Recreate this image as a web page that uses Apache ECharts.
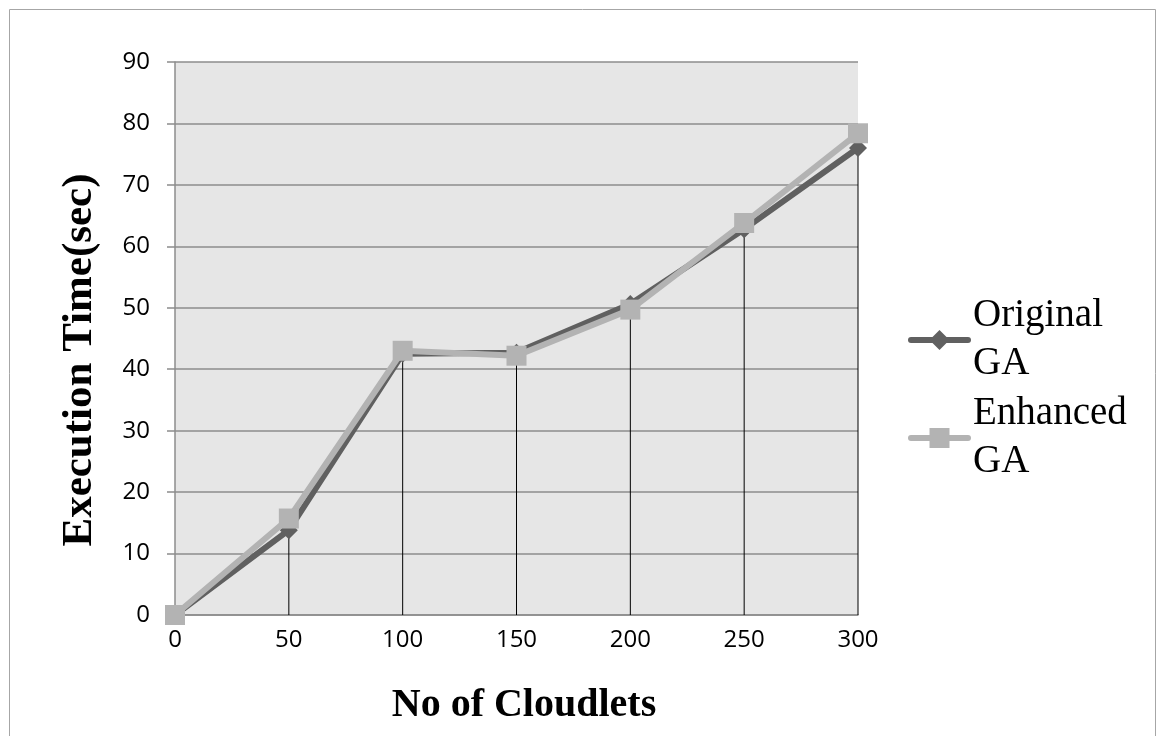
<!DOCTYPE html>
<html>
<head>
<meta charset="utf-8">
<script src="https://cdn.jsdelivr.net/npm/echarts@6/dist/echarts.min.js"></script>
<style>
  html, body { margin: 0; padding: 0; background: #fff; }
  #chart { width: 1157px; height: 736px; }
</style>
</head>
<body>
<div id="chart"></div>
<script>
// Number of cloudlets on the x axis
const cloudlets = ['0', '50', '100', '150', '200', '250', '300'];
// Execution time in seconds for each algorithm
const originalGA = [0, 13.8, 42.5, 42.7, 50.6, 62.8, 76.0];
const enhancedGA = [0, 15.7, 43.0, 42.2, 49.7, 63.8, 78.4];
const seriesNames = ['Original GA', 'Enhanced GA'];
const yTicks = { min: 0, max: 90, interval: 10 };

// Drop lines run from the higher of the two points down to the x axis
const dropLines = originalGA.map((v, i) => Math.max(v, enhancedGA[i]));

const chart = echarts.init(document.getElementById('chart'));
const tickFont = { fontFamily: 'Open Sans', fontSize: 24, color: '#000' };

chart.setOption({
  animation: false,
  graphic: [
    {
      type: 'rect', z: -10, silent: true,
      shape: { x: 9.5, y: 9.5, width: 1146, height: 740 },
      style: { fill: 'none', stroke: '#a6a6a6', lineWidth: 1 }
    },
    {
      type: 'text', x: 80, y: 360, rotation: Math.PI / 2, silent: true,
      style: {
        text: 'Execution Time(sec)', align: 'center', verticalAlign: 'middle',
        font: 'bold 43px "Liberation Serif"', fill: '#000'
      }
    },
    {
      type: 'text', x: 524, y: 706, silent: true,
      style: {
        text: 'No of Cloudlets', align: 'center', verticalAlign: 'middle',
        font: 'bold 40px "Liberation Serif"', fill: '#000'
      }
    }
  ],
  grid: {
    left: 175, right: 299, top: 62, bottom: 121,
    show: true, backgroundColor: '#e6e6e6', borderWidth: 0
  },
  legend: {
    data: seriesNames,
    orient: 'vertical',
    left: 903, top: 263,
    itemWidth: 57, itemHeight: 25, itemGap: -46,
    formatter: name => name.replace(' ', '\n'),
    lineStyle: { width: 6, cap: 'round' },
    textStyle: {
      fontFamily: 'Liberation Serif', fontSize: 39, lineHeight: 48,
      color: '#000', padding: [48, 0, 0, 0]
    },
    selectedMode: false
  },
  xAxis: {
    type: 'category',
    data: cloudlets,
    boundaryGap: false,
    axisLine: { lineStyle: { color: '#8c8c8c', width: 1.5 } },
    axisTick: { show: false },
    axisLabel: Object.assign({ margin: 13 }, tickFont),
    splitLine: { show: false }
  },
  yAxis: {
    type: 'value',
    min: yTicks.min, max: yTicks.max, interval: yTicks.interval,
    axisLine: { show: true, lineStyle: { color: '#8c8c8c', width: 1.5 } },
    axisTick: { show: true, length: 8, lineStyle: { color: '#8c8c8c', width: 1.5 } },
    axisLabel: Object.assign({ margin: 25 }, tickFont),
    splitLine: { show: true, lineStyle: { color: '#8c8c8c', width: 1.5 } }
  },
  series: [
    {
      name: 'drop',
      type: 'bar',
      data: dropLines,
      barWidth: 1,
      itemStyle: { color: '#000' },
      silent: true,
      z: 1
    },
    {
      name: seriesNames[0],
      type: 'line',
      data: originalGA,
      symbol: 'diamond',
      symbolSize: 18,
      lineStyle: { color: '#606060', width: 6 },
      itemStyle: { color: '#606060' },
      z: 3
    },
    {
      name: seriesNames[1],
      type: 'line',
      data: enhancedGA,
      symbol: 'rect',
      symbolSize: 20,
      lineStyle: { color: '#b3b3b3', width: 6 },
      itemStyle: { color: '#b3b3b3' },
      z: 4
    }
  ]
});
</script>
</body>
</html>
